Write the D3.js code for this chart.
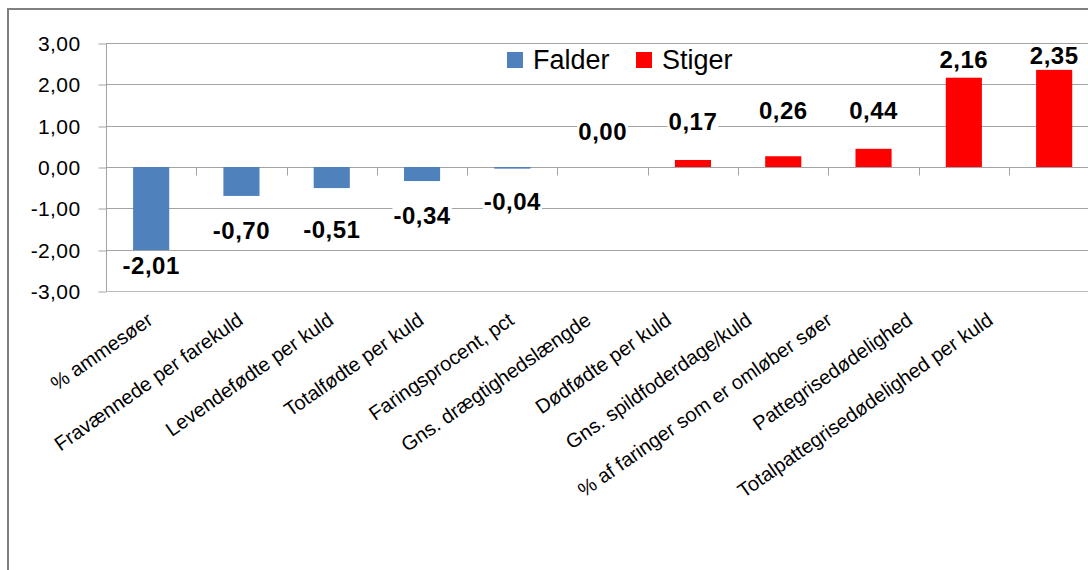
<!DOCTYPE html>
<html><head><meta charset="utf-8">
<script src="https://cdn.jsdelivr.net/npm/d3@7"></script>
<style>
body{margin:0;background:#fff}
svg{display:block}
text{font-family:"Liberation Sans",Arial,sans-serif;fill:#000}
</style>
</head><body><svg id="c" width="1088" height="570"></svg>
<script>
// ---- data ----
const categories = ["% ammesøer","Fravænnede per farekuld","Levendefødte per kuld","Totalfødte per kuld","Faringsprocent, pct","Gns. drægtighedslængde","Dødfødte per kuld","Gns. spildfoderdage/kuld","% af faringer som er omløber søer","Pattegrisedødelighed","Totalpattegrisedødelighed per kuld"];
const values = [-2.01,-0.70,-0.51,-0.34,-0.04,0.00,0.17,0.26,0.44,2.16,2.35];
const seriesNames = ["Falder","Stiger"];
const yTicks = [-3,-2,-1,0,1,2,3];

// ---- layout tweaks (pixels, not data) ----
const labelDy = [15,34,41,34,33,-36,-39,-46,-38,-18,-15];
const colors = {Falder:"#4F81BD", Stiger:"#FF0000"};

const svg = d3.select("#c");
const locale = d3.formatLocale({decimal:",",thousands:".",grouping:[3],currency:["","kr"],minus:"-"});
const fmt = locale.format(".2f");

const left = 106, step = 90.3;
const x = d3.scaleBand().domain(categories).range([left, left + step*categories.length]).paddingInner(0.6).paddingOuter(0.3);
const y = d3.scaleLinear().domain([-3,3]).range([291,43]);

// outer border
svg.append("path").attr("d","M8,570V9H1088").attr("fill","none").attr("stroke","#808080").attr("stroke-width",2);

// gridlines
svg.append("g").selectAll("line").data(yTicks).join("line")
  .attr("x1",left).attr("x2",1088)
  .attr("y1",d=>Math.round(y(d))+0.5).attr("y2",d=>Math.round(y(d))+0.5)
  .attr("stroke",d=>d===-3?"#bcbcbc":"#a3a3a3").attr("stroke-width",1);

// y axis
const yAxis = svg.append("g").attr("transform",`translate(${left+0.5},0)`)
  .call(d3.axisLeft(y).tickValues(yTicks).tickSize(8).tickPadding(18).tickFormat(fmt));
yAxis.select(".domain").attr("stroke","#a3a3a3");
yAxis.selectAll(".tick line").attr("stroke","#a3a3a3").attr("transform",function(){const v=d3.select(this.parentNode).datum();return "translate(0,"+((Math.round(y(v))+0.5)-y(v))+")";});
yAxis.selectAll(".tick text").attr("font-size",21).attr("dy","0.36em").attr("letter-spacing","0.4px").attr("font-family","Liberation Sans, Arial, sans-serif").attr("fill","#000");
yAxis.select(".domain").attr("d",`M0,${y(3)}V${y(-3)}`);

// category tick marks on zero line
const bounds = categories.map(c => x(c) - (x.step()-x.bandwidth())/2);
bounds.push(bounds[bounds.length-1] + x.step());
const y0 = Math.round(y(0))+0.5;
svg.append("g").selectAll("line").data(bounds).join("line")
  .attr("x1",d=>Math.round(d)+0.5).attr("x2",d=>Math.round(d)+0.5)
  .attr("y1",y0).attr("y2",y0+8).attr("stroke","#a3a3a3");

// bars
svg.append("g").selectAll("rect").data(values).join("rect")
  .attr("x",(d,i)=>x(categories[i]))
  .attr("width",x.bandwidth())
  .attr("y",d=>y(Math.max(0,d)))
  .attr("height",d=>Math.abs(y(d)-y(0)))
  .attr("fill",d=>d<0?colors.Falder:colors.Stiger);

// category labels
const labelShift = i => 3 - (i>4 ? 3.5 + 9.9*(i-4) : 0);
svg.append("g").selectAll("text").data(categories).join("text")
  .attr("transform",(d,i)=>`translate(${x(d)+x.bandwidth()/2+labelShift(i)},${y(-3)+32}) rotate(-35)`)
  .attr("text-anchor","end").attr("font-size",20).text(d=>d);

// data labels
const dl = svg.append("g");
values.forEach((v,i)=>{
  const cx = x(categories[i]) + x.bandwidth()/2;
  const cy = y(v) + labelDy[i];
  const g = dl.append("g");
  const bg = g.append("rect").attr("fill","#fff");
  const t = g.append("text").attr("x",cx).attr("y",cy).attr("dy","0.36em")
    .attr("text-anchor","middle").attr("font-size",24).attr("font-weight","bold")
    .attr("letter-spacing","0.5px").text(fmt(v));
  const bb = t.node().getBBox();
  bg.attr("x",bb.x-1).attr("y",bb.y+3).attr("width",bb.width+2).attr("height",bb.height-6);
});

// legend
const lg = svg.append("g");
const lx = [507,636];
seriesNames.forEach((s,i)=>{
  lg.append("rect").attr("x",lx[i]).attr("y",52).attr("width",16).attr("height",16).attr("fill",colors[s]);
  lg.append("text").attr("x",lx[i]+26).attr("y",68.5).attr("font-size",27).text(s);
});
</script>
</body></html>
